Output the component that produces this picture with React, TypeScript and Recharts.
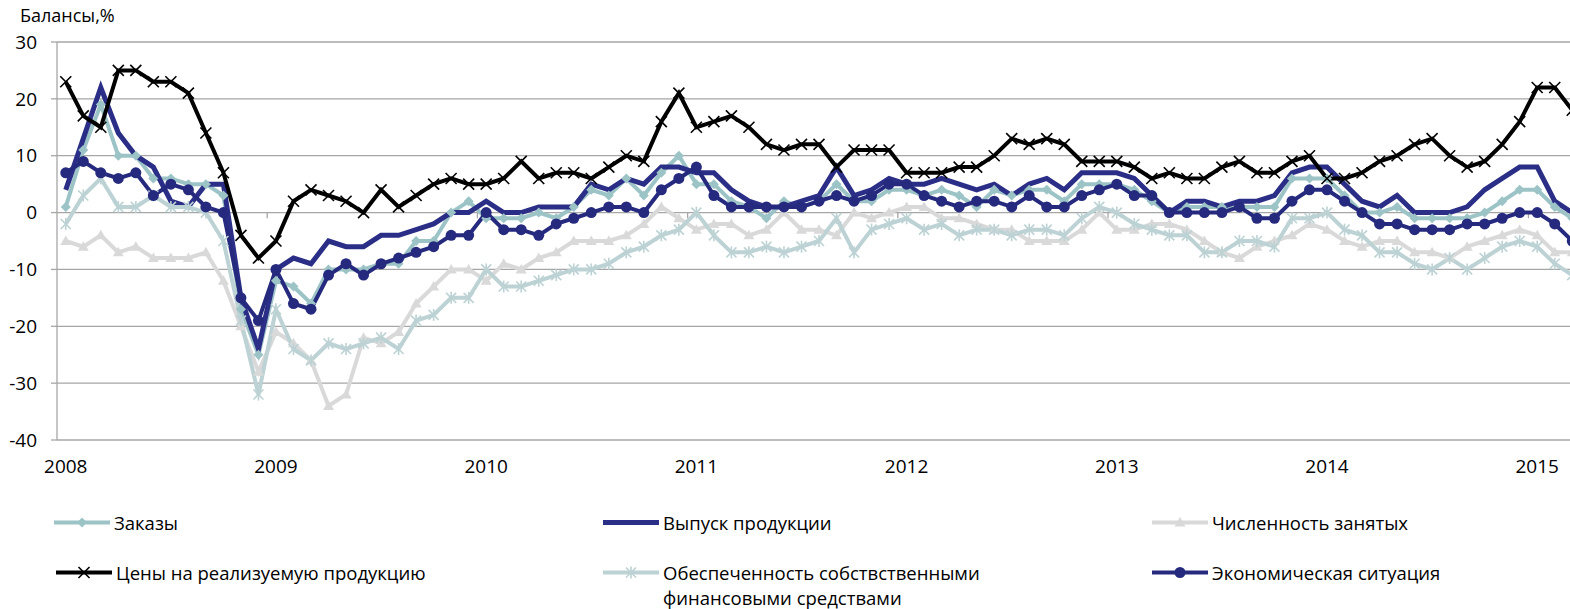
import React from 'react';
import { LineChart, Line, XAxis, YAxis, CartesianGrid, ReferenceLine } from 'recharts';

// ---- data (monthly, Jan 2008 .. Mar 2015) ----
const years = ['2008', '2009', '2010', '2011', '2012', '2013', '2014', '2015'];
const yTicks = [-40, -30, -20, -10, 0, 10, 20, 30];

const orders = [
  1, 11, 19, 10, 10, 6, 6, 5, 5, 3, -17, -25,
  -12, -13, -16, -10, -10, -10, -9, -9, -5, -5, 0, 2,
  -1, -1, -1, 0, -1, 1, 4, 3, 6, 3, 7, 10,
  5, 5, 2, 1, -1, 2, 1, 2, 5, 2, 2, 4,
  4, 3, 4, 3, 1, 4, 3, 4, 4, 2, 5, 5,
  5, 4, 2, 0, 1, 1, 1, 1, 1, 1, 6, 6,
  6, 3, 0, 0, 1, -1, -1, -1, -1, 0, 2, 4,
  4, 1, -1,
];

const output = [
  4, 13, 22, 14, 10, 8, 2, 1, 5, 5, -15, -24,
  -10, -8, -9, -5, -6, -6, -4, -4, -3, -2, 0, 0,
  2, 0, 0, 1, 1, 1, 5, 4, 6, 5, 8, 8,
  7, 7, 4, 2, 1, 1, 2, 3, 8, 3, 4, 6,
  5, 5, 6, 5, 4, 5, 3, 5, 6, 4, 7, 7,
  7, 6, 3, 0, 2, 2, 1, 2, 2, 3, 7, 8,
  8, 5, 2, 1, 3, 0, 0, 0, 1, 4, 6, 8,
  8, 2, 0,
];

const employment = [
  -5, -6, -4, -7, -6, -8, -8, -8, -7, -12, -20, -28,
  -21, -23, -26, -34, -32, -22, -23, -21, -16, -13, -10, -10,
  -12, -9, -10, -8, -7, -5, -5, -5, -4, -2, 1, -1,
  -3, -2, -2, -4, -3, 0, -3, -3, -4, 0, -1, 0,
  1, 1, -1, -1, -2, -3, -3, -5, -5, -5, -3, 0,
  -3, -3, -2, -2, -3, -5, -7, -8, -6, -5, -4, -2,
  -3, -5, -6, -5, -5, -7, -7, -8, -6, -5, -4, -3,
  -4, -7, -7,
];

const prices = [
  23, 17, 15, 25, 25, 23, 23, 21, 14, 7, -4, -8,
  -5, 2, 4, 3, 2, 0, 4, 1, 3, 5, 6, 5,
  5, 6, 9, 6, 7, 7, 6, 8, 10, 9, 16, 21,
  15, 16, 17, 15, 12, 11, 12, 12, 8, 11, 11, 11,
  7, 7, 7, 8, 8, 10, 13, 12, 13, 12, 9, 9,
  9, 8, 6, 7, 6, 6, 8, 9, 7, 7, 9, 10,
  6, 6, 7, 9, 10, 12, 13, 10, 8, 9, 12, 16,
  22, 22, 18,
];

const finance = [
  -2, 3, 6, 1, 1, 3, 1, 1, 0, -5, -19, -32,
  -17, -24, -26, -23, -24, -23, -22, -24, -19, -18, -15, -15,
  -10, -13, -13, -12, -11, -10, -10, -9, -7, -6, -4, -3,
  0, -4, -7, -7, -6, -7, -6, -5, -1, -7, -3, -2,
  -1, -3, -2, -4, -3, -3, -4, -3, -3, -4, -1, 1,
  0, -2, -3, -4, -4, -7, -7, -5, -5, -6, -1, -1,
  0, -3, -4, -7, -7, -9, -10, -8, -10, -8, -6, -5,
  -6, -9, -11,
];

const economy = [
  7, 9, 7, 6, 7, 3, 5, 4, 1, 0, -15, -19,
  -10, -16, -17, -11, -9, -11, -9, -8, -7, -6, -4, -4,
  0, -3, -3, -4, -2, -1, 0, 1, 1, 0, 4, 6,
  8, 3, 1, 1, 1, 1, 1, 2, 3, 2, 3, 5,
  5, 3, 2, 1, 2, 2, 1, 3, 1, 1, 3, 4,
  5, 3, 3, 0, 0, 0, 0, 1, -1, -1, 2, 4,
  4, 2, 0, -2, -2, -3, -3, -3, -2, -2, -1, 0,
  0, -2, -5,
];

const labels = {
  orders: 'Заказы',
  output: 'Выпуск продукции',
  employment: 'Численность занятых',
  prices: 'Цены на реализуемую продукцию',
  finance: ['Обеспеченность собствственными', 'финансовыми средствами'],
  economy: 'Экономическая ситуация',
};

// ---- styles ----
const FONT = "'Open Sans', sans-serif";
const C_ORDERS = '#9cc4c7';
const C_OUTPUT = '#2b2e86';
const C_EMPLOY = '#d9d9d9';
const C_PRICES = '#000000';
const C_FIN = '#bcd2d4';
const C_ECON = '#262a7e';
const C_GRID = '#a6a6a6';

const nCat = orders.length;
const data = orders.map((_, i) => ({
  x: i + 0.5,
  orders: orders[i],
  output: output[i],
  employment: employment[i],
  prices: prices[i],
  finance: finance[i],
  economy: economy[i],
}));
const xTicks = years.map((_, k) => k * 12 + 0.5);
const boundaries = years.slice(1).map((_, k) => (k + 1) * 12);

// ---- markers ----
const Diamond = ({ cx, cy, color }: any) => (
  <polygon points={`${cx},${cy - 5} ${cx + 5},${cy} ${cx},${cy + 5} ${cx - 5},${cy}`} fill={color} />
);
const Triangle = ({ cx, cy, color }: any) => (
  <polygon points={`${cx},${cy - 5.5} ${cx + 5.5},${cy + 4} ${cx - 5.5},${cy + 4}`} fill={color} />
);
const Cross = ({ cx, cy, color }: any) => (
  <g stroke={color} strokeWidth={1.6}>
    <line x1={cx - 5.5} y1={cy - 5.5} x2={cx + 5.5} y2={cy + 5.5} />
    <line x1={cx - 5.5} y1={cy + 5.5} x2={cx + 5.5} y2={cy - 5.5} />
  </g>
);
const Star = ({ cx, cy, color }: any) => (
  <g stroke={color} strokeWidth={1.6}>
    <line x1={cx - 5} y1={cy - 5} x2={cx + 5} y2={cy + 5} />
    <line x1={cx - 5} y1={cy + 5} x2={cx + 5} y2={cy - 5} />
    <line x1={cx} y1={cy - 6} x2={cx} y2={cy + 6} />
  </g>
);
const Circle = ({ cx, cy, color }: any) => <circle cx={cx} cy={cy} r={5.5} fill={color} />;

const mk = (M: any, color: string) => (p: any) =>
  p.cx == null || p.cy == null ? <g key={p.index} /> : <M key={p.index} cx={p.cx} cy={p.cy} color={color} />;

// ---- legend ----
const LegendItem = ({ left, top, color, width, M, text }: any) => (
  <div style={{ position: 'absolute', left, top, display: 'flex', alignItems: 'flex-start' }}>
    <svg width={58} height={25} style={{ flex: 'none' }}>
      <line x1={1} y1={12.5} x2={57} y2={12.5} stroke={color} strokeWidth={width} />
      {M ? <M cx={29} cy={12.5} color={color} /> : null}
    </svg>
    <div style={{ marginLeft: 3, lineHeight: '25px', fontSize: 18.5, color: '#000', whiteSpace: 'nowrap' }}>
      {Array.isArray(text) ? text.map((t: string) => <div key={t}>{t}</div>) : text}
    </div>
  </div>
);

export default function App() {
  return (
    <div
      style={{
        position: 'absolute',
        left: 0,
        top: 0,
        width: 1570,
        height: 609,
        overflow: 'hidden',
        background: '#fff',
        fontFamily: FONT,
      }}
    >
      <div style={{ position: 'absolute', left: 20, top: 3, fontSize: 18, lineHeight: '24px', color: '#000' }}>
        Балансы,%
      </div>
      <div style={{ position: 'absolute', left: 0, top: 0 }}>
        <LineChart width={1581} height={480} data={data} margin={{ top: 42, right: 0, bottom: 10, left: 0 }}>
          <CartesianGrid horizontal vertical={false} stroke={C_GRID} strokeWidth={1.3} />
          <XAxis
            type="number"
            dataKey="x"
            domain={[0, nCat]}
            ticks={xTicks}
            interval={0}
            tickFormatter={(v: number) => years[Math.round((v - 0.5) / 12)]}
            axisLine={false}
            tickLine={false}
            tickSize={6}
            tickMargin={14}
            height={30}
            tick={{ fontSize: 19, fill: '#000', fontFamily: FONT }}
          />
          <YAxis
            type="number"
            domain={[-40, 30]}
            ticks={yTicks}
            interval={0}
            width={57}
            axisLine={{ stroke: C_GRID, strokeWidth: 1.3 }}
            tickLine={{ stroke: C_GRID, strokeWidth: 1.3 }}
            tickSize={6}
            tickMargin={14}
            tick={{ fontSize: 19, fill: '#000', fontFamily: FONT }}
          />
          {boundaries.map((b) => (
            <ReferenceLine
              key={b}
              segment={[{ x: b, y: 0 }, { x: b, y: -1 }]}
              stroke={C_GRID}
              strokeWidth={1.3}
            />
          ))}
          <Line dataKey="orders" stroke={C_ORDERS} strokeWidth={4} dot={mk(Diamond, C_ORDERS)} activeDot={false} isAnimationActive={false} />
          <Line dataKey="output" stroke={C_OUTPUT} strokeWidth={5} dot={false} activeDot={false} isAnimationActive={false} />
          <Line dataKey="employment" stroke={C_EMPLOY} strokeWidth={4} dot={mk(Triangle, C_EMPLOY)} activeDot={false} isAnimationActive={false} />
          <Line dataKey="prices" stroke={C_PRICES} strokeWidth={4} dot={mk(Cross, C_PRICES)} activeDot={false} isAnimationActive={false} />
          <Line dataKey="finance" stroke={C_FIN} strokeWidth={4} dot={mk(Star, C_FIN)} activeDot={false} isAnimationActive={false} />
          <Line dataKey="economy" stroke={C_ECON} strokeWidth={4} dot={mk(Circle, C_ECON)} activeDot={false} isAnimationActive={false} />
        </LineChart>
      </div>
      <LegendItem left={53} top={510} color={C_ORDERS} width={4} M={Diamond} text={labels.orders} />
      <LegendItem left={602} top={510} color={C_OUTPUT} width={5} M={null} text={labels.output} />
      <LegendItem left={1151} top={510} color={C_EMPLOY} width={4} M={Triangle} text={labels.employment} />
      <LegendItem left={55} top={560} color={C_PRICES} width={4} M={Cross} text={labels.prices} />
      <LegendItem left={602} top={560} color={C_FIN} width={4} M={Star} text={labels.finance} />
      <LegendItem left={1151} top={560} color={C_ECON} width={4} M={Circle} text={labels.economy} />
    </div>
  );
}
